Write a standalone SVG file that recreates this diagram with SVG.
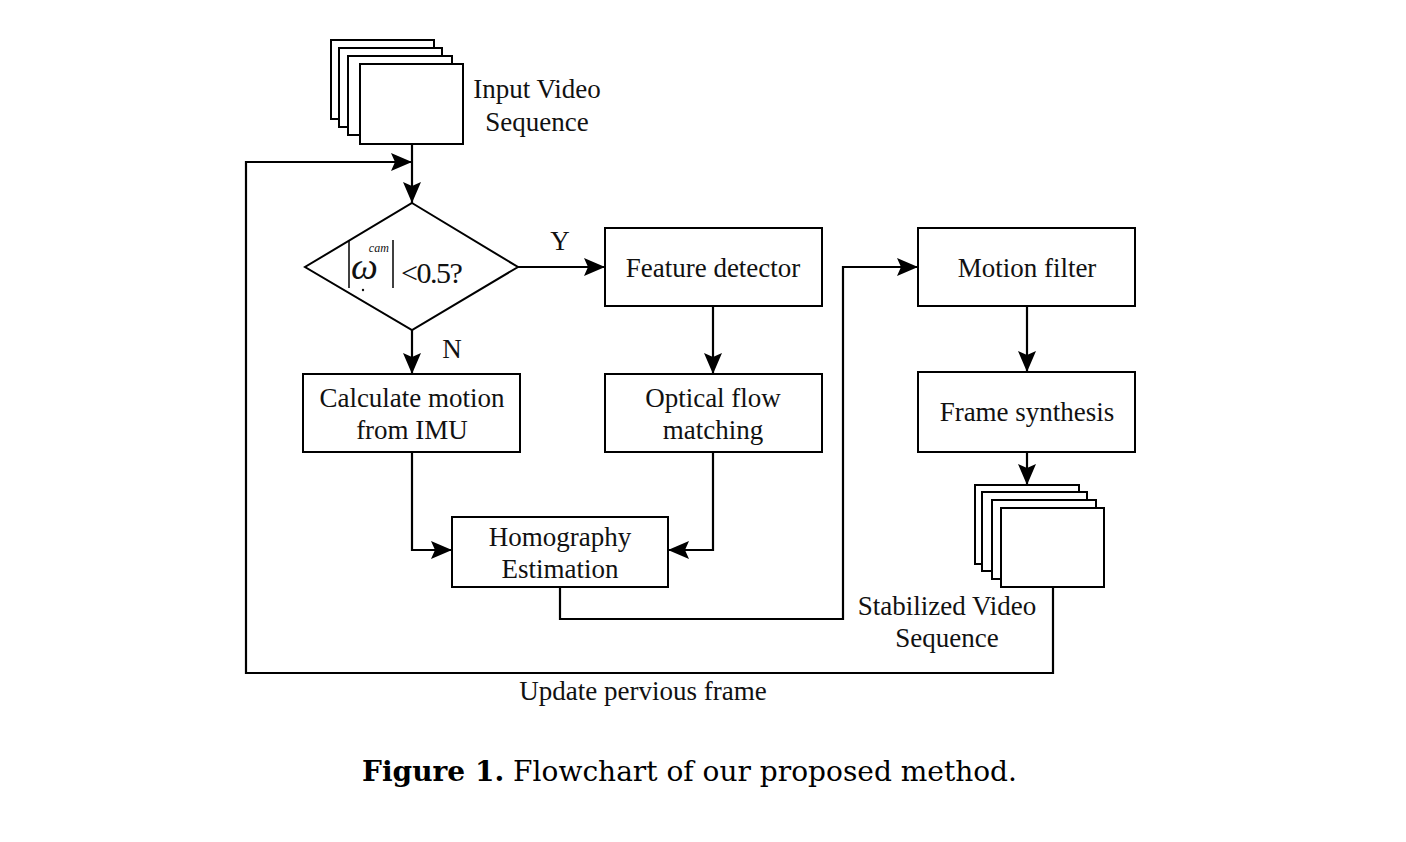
<svg xmlns="http://www.w3.org/2000/svg" width="1406" height="842" viewBox="0 0 1406 842">
<defs>
<marker id="ah" markerWidth="21" markerHeight="18" refX="21" refY="9" orient="auto" markerUnits="userSpaceOnUse">
<path d="M0,0 L21,9 L0,18 L4,9 Z" fill="#000"/>
</marker>
<style>
.b{fill:#fff;stroke:#000;stroke-width:2}
.t{font-family:"Liberation Serif","Times New Roman",serif;font-size:27px;fill:#111;text-anchor:middle}
.c{fill:none;stroke:#000;stroke-width:2.2}
.cap{font-family:"DejaVu Serif","Liberation Serif",serif;font-size:28px;fill:#000}
</style>
</defs>
<rect width="1406" height="842" fill="#fff"/>

<g id="input">
<rect class="b" x="331" y="40" width="103" height="79"/>
<rect class="b" x="339" y="48" width="103" height="79"/>
<rect class="b" x="348" y="56" width="104" height="79"/>
<rect class="b" x="360" y="64" width="103" height="80"/>
<text class="t" x="537" y="98">Input Video</text>
<text class="t" x="537" y="131">Sequence</text>
</g>

<g id="decision">
<polygon class="b" points="412,203 518,267 412,330 305,267"/>
<line x1="349" y1="240" x2="349" y2="288" stroke="#000" stroke-width="1.5"/>
<line x1="393" y1="240" x2="393" y2="288" stroke="#000" stroke-width="1.5"/>
<text x="351" y="279" font-family="Liberation Serif, serif" font-size="38" font-style="italic" fill="#111">ω<tspan dx="-9" dy="-27" font-size="12">cam</tspan></text>
<circle cx="363" cy="290" r="1.2" fill="#111"/>
<text x="401" y="283" font-family="Liberation Serif, serif" font-size="30" fill="#111" letter-spacing="-1.5">&lt;0.5?</text>
</g>

<g id="feature"><rect class="b" x="605" y="228" width="217" height="78"/><text class="t" x="713" y="277">Feature detector</text></g>
<g id="motion"><rect class="b" x="918" y="228" width="217" height="78"/><text class="t" x="1027" y="277">Motion filter</text></g>
<g id="calc"><rect class="b" x="303" y="374" width="217" height="78"/><text class="t" x="412" y="407">Calculate motion</text><text class="t" x="412" y="439">from IMU</text></g>
<g id="optical"><rect class="b" x="605" y="374" width="217" height="78"/><text class="t" x="713" y="407">Optical flow</text><text class="t" x="713" y="439">matching</text></g>
<g id="synth"><rect class="b" x="918" y="372" width="217" height="80"/><text class="t" x="1027" y="421">Frame synthesis</text></g>
<g id="homography"><rect class="b" x="452" y="517" width="216" height="70"/><text class="t" x="560" y="546">Homography</text><text class="t" x="560" y="578">Estimation</text></g>

<g id="output">
<rect class="b" x="975" y="485" width="104" height="79"/>
<rect class="b" x="982" y="492" width="105" height="79"/>
<rect class="b" x="992" y="500" width="104" height="79"/>
<rect class="b" x="1001" y="508" width="103" height="79"/>
<text class="t" x="947" y="615">Stabilized Video</text>
<text class="t" x="947" y="647">Sequence</text>
</g>

<g id="connectors">
<line class="c" x1="412" y1="144" x2="412" y2="203" marker-end="url(#ah)"/>
<polyline class="c" points="1053,587 1053,673 246,673 246,162 412,162" marker-end="url(#ah)"/>
<line class="c" x1="518" y1="267" x2="605" y2="267" marker-end="url(#ah)"/>
<line class="c" x1="412" y1="330" x2="412" y2="374" marker-end="url(#ah)"/>
<line class="c" x1="713" y1="306" x2="713" y2="374" marker-end="url(#ah)"/>
<polyline class="c" points="412,452 412,550 452,550" marker-end="url(#ah)"/>
<polyline class="c" points="713,452 713,550 668,550" marker-end="url(#ah)"/>
<polyline class="c" points="560,587 560,619 843,619 843,267 918,267" marker-end="url(#ah)"/>
<line class="c" x1="1027" y1="306" x2="1027" y2="372" marker-end="url(#ah)"/>
<line class="c" x1="1027" y1="452" x2="1027" y2="485" marker-end="url(#ah)"/>
<text class="t" x="560" y="250">Y</text>
<text class="t" x="452" y="358">N</text>
<text class="t" x="643" y="700">Update pervious frame</text>
</g>

<text class="cap" x="362" y="781" textLength="655" lengthAdjust="spacingAndGlyphs"><tspan font-weight="bold">Figure 1.</tspan> Flowchart of our proposed method.</text>
</svg>
